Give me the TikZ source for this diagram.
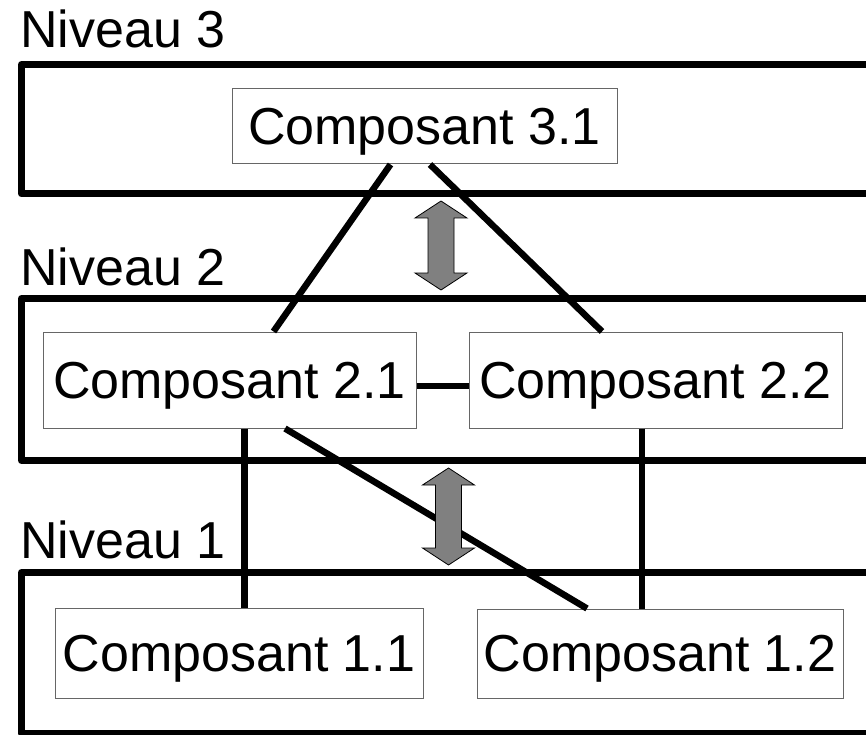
\documentclass[tikz,border=0pt]{standalone}
\usepackage{fontspec}
\setmainfont{Liberation Sans}
\usetikzlibrary{calc,positioning}

\begin{document}
\begin{tikzpicture}[x=1pt,y=-1pt,
    every node/.style={font=\fontsize{52}{60}\selectfont},
    comp/.style={draw=black!60,line width=1pt,fill=white,inner sep=0pt,text depth=0pt},
    niveau/.style={draw=black,line width=7pt,line join=round},
    lien/.style={draw=black,line width=6.5pt},
    fleche/.style={fill=gray,draw=black,line width=0.8pt}]
    \useasboundingbox (0,0) rectangle (866,735);
    \clip (0,0) rectangle (866,735);

    % the three levels
    \foreach \t/\b/\n/\l in {64.5/194/3/48, 298.5/460.5/2/285, 572.5/733/1/558}
    {
        \draw[niveau] (21.5,\t) rectangle (900,\b);
        \node[anchor=base west,inner sep=0pt] (niv\n) at (20,\l) {Niveau \n};
    };

    \node[comp,minimum width=385,minimum height=75] (c31) at (424.5,126.5) {Composant 3.1};
    \node[comp,minimum width=373,minimum height=96] (c21) at (229.5,380) {Composant 2.1};
    \node[comp,minimum width=373,minimum height=96] (c22) at (655.5,380) {Composant 2.2};
    \node[comp,minimum width=368,minimum height=90] (c11) at (239,653) {Composant 1.1};
    \node[comp,minimum width=366,minimum height=89] (c12) at (660,653.5) {Composant 1.2};

    \draw[lien] ([xshift=-34]c31.south) -- ([xshift=44]c21.north);
    \draw[lien] ([xshift=5.5]c31.south) -- ([xshift=-53.5]c22.north);
    \draw[lien] ([yshift=-6]c21.east) -- ([yshift=-6]c22.west);
    \draw[lien] ([xshift=15]c21.south) -- ([xshift=15]c21.south |- c11.north);
    \draw[lien] ([xshift=-13.5]c22.south) -- ([xshift=-13.5]c22.south |- c12.north);
    \draw[lien] ([xshift=55.5]c21.south) -- ([xshift=-73]c12.north);

    % exchange arrows between levels
    \foreach \x/\a/\b in {441/201/290, 448.5/468/565}
    {
        \draw[fleche] (\x,\a) -- (\x+26,\a+17) -- (\x+13,\a+17) -- (\x+13,\b-17)
            -- (\x+26,\b-17) -- (\x,\b) -- (\x-26,\b-17) -- (\x-13,\b-17)
            -- (\x-13,\a+17) -- (\x-26,\a+17) -- cycle;
    };
\end{tikzpicture}
\end{document}
